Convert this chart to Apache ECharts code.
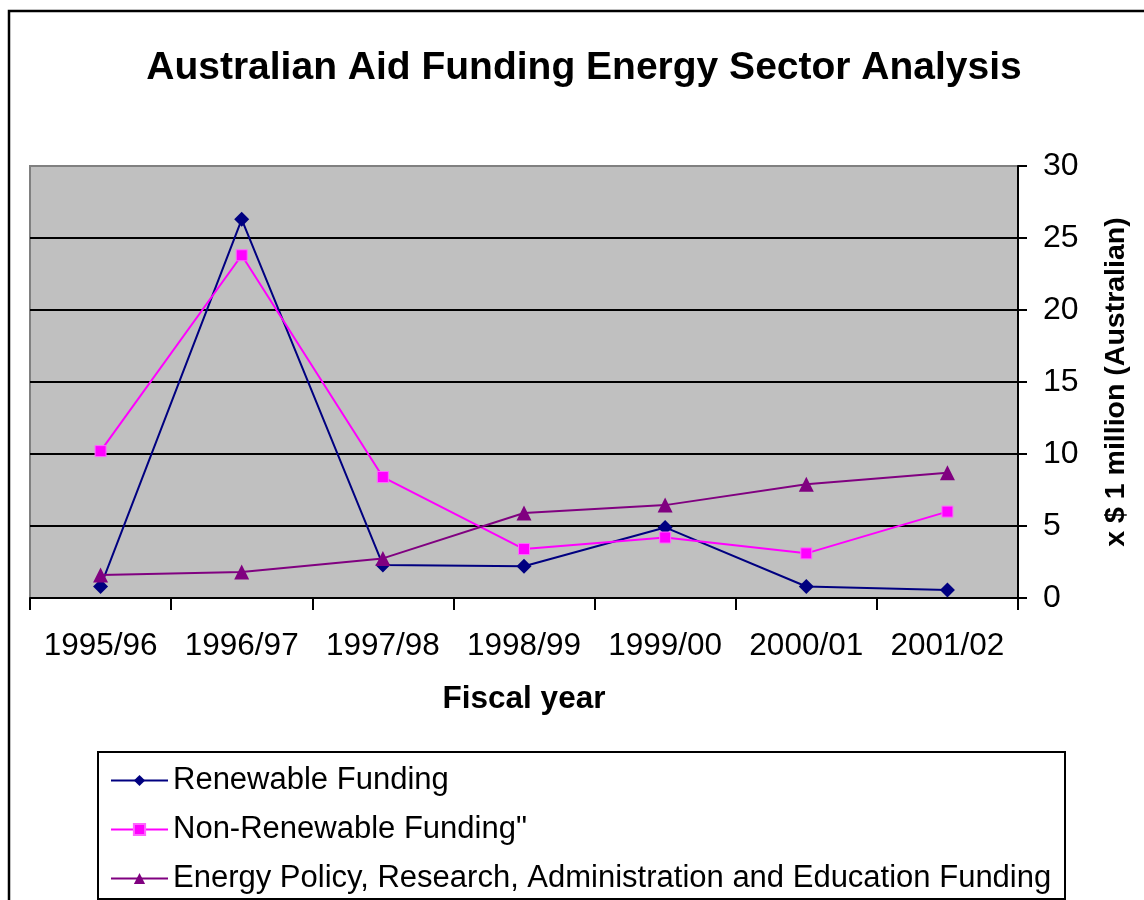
<!DOCTYPE html>
<html>
<head>
<meta charset="utf-8">
<script src="https://cdn.jsdelivr.net/npm/echarts@6/dist/echarts.min.js"></script>
<style>
  html, body { margin: 0; padding: 0; background: #fff; }
  #chart { width: 1144px; height: 900px; }
</style>
</head>
<body>
<div id="chart"></div>
<script>
// fiscal years on the x axis
var years = ['1995/96', '1996/97', '1997/98', '1998/99', '1999/00', '2000/01', '2001/02'];
// values, x $1 million (Australian)
var renewable = [0.8, 26.3, 2.3, 2.2, 4.9, 0.8, 0.55];
var nonRenewable = [10.2, 23.8, 8.4, 3.4, 4.2, 3.1, 6.0];
var policy = [1.6, 1.8, 2.75, 5.9, 6.45, 7.9, 8.7];
var names = ['Renewable Funding', 'Non-Renewable Funding"',
    'Energy Policy, Research, Administration and Education Funding'];

var font = 'Arial, "Liberation Sans", sans-serif';
var chart = echarts.init(document.getElementById('chart'));

var option = {
    backgroundColor: '#fff',
    animation: false,
    textStyle: { fontFamily: font, color: '#000' },
    title: {
        text: 'Australian Aid Funding Energy Sector Analysis',
        left: 579,
        top: 44,
        textAlign: 'center',
        textStyle: { fontSize: 39, fontWeight: 'bold', color: '#000', fontFamily: font }
    },
    graphic: [{
        // outer chart border
        type: 'rect',
        shape: { x: 9, y: 11, width: 1200, height: 1000 },
        style: { fill: 'none', stroke: '#000', lineWidth: 2.5 },
        silent: true
    }, {
        // legend frame
        type: 'rect',
        shape: { x: 98, y: 752, width: 967, height: 147 },
        style: { fill: 'none', stroke: '#000', lineWidth: 2 },
        silent: true
    }],
    legend: {
        orient: 'vertical',
        left: 98,
        top: 752,
        width: 1000,
        height: 200,
        padding: [13, 10, 6, 12],
        itemGap: 18,
        itemWidth: 57,
        itemHeight: 14,
        borderWidth: 0,
        data: names,
        textStyle: { fontSize: 31, color: '#000', fontFamily: font, lineHeight: 30 }
    },
    grid: {
        left: 30,
        right: 126,
        top: 166,
        bottom: 302,
        show: true,
        backgroundColor: '#C0C0C0',
        borderColor: '#808080',
        borderWidth: 2
    },
    xAxis: {
        type: 'category',
        data: years,
        boundaryGap: true,
        name: 'Fiscal year',
        nameLocation: 'middle',
        nameGap: 85,
        nameTextStyle: { fontSize: 31.5, fontWeight: 'bold', color: '#000', fontFamily: font },
        axisLine: { lineStyle: { color: '#000', width: 2 } },
        axisTick: { show: true, interval: 0, length: 12, lineStyle: { color: '#000', width: 2 } },
        axisLabel: { interval: 0, fontSize: 31.5, color: '#000', margin: 32, fontFamily: font },
        splitLine: { show: false }
    },
    yAxis: {
        type: 'value',
        position: 'right',
        min: 0,
        max: 30,
        interval: 5,
        name: 'x $ 1 million (Australian)',
        nameLocation: 'middle',
        nameRotate: 90,
        nameGap: 84,
        nameTextStyle: { fontSize: 28.5, fontWeight: 'bold', color: '#000', fontFamily: font },
        axisLine: { show: true, lineStyle: { color: '#000', width: 2 } },
        axisTick: { show: true, length: 9, lineStyle: { color: '#000', width: 2 } },
        axisLabel: { fontSize: 32, color: '#000', margin: 25, fontFamily: font },
        splitLine: { show: true, showMinLine: false, showMaxLine: false, lineStyle: { color: '#000', width: 2 } }
    },
    series: [
        {
            name: names[0],
            type: 'line',
            data: renewable,
            symbol: 'diamond',
            symbolSize: 15,
            color: '#000080',
            lineStyle: { width: 2, color: '#000080' },
            itemStyle: { color: '#000080' }
        },
        {
            name: names[1],
            type: 'line',
            data: nonRenewable,
            symbol: 'rect',
            symbolSize: 11,
            color: '#FF00FF',
            lineStyle: { width: 2, color: '#FF00FF' },
            itemStyle: { color: '#FF00FF', borderColor: '#FF66FF', borderWidth: 1 }
        },
        {
            name: names[2],
            type: 'line',
            data: policy,
            symbol: 'triangle',
            symbolSize: 15,
            color: '#800080',
            lineStyle: { width: 2, color: '#800080' },
            itemStyle: { color: '#800080' }
        }
    ]
};

chart.setOption(option);
</script>
</body>
</html>
